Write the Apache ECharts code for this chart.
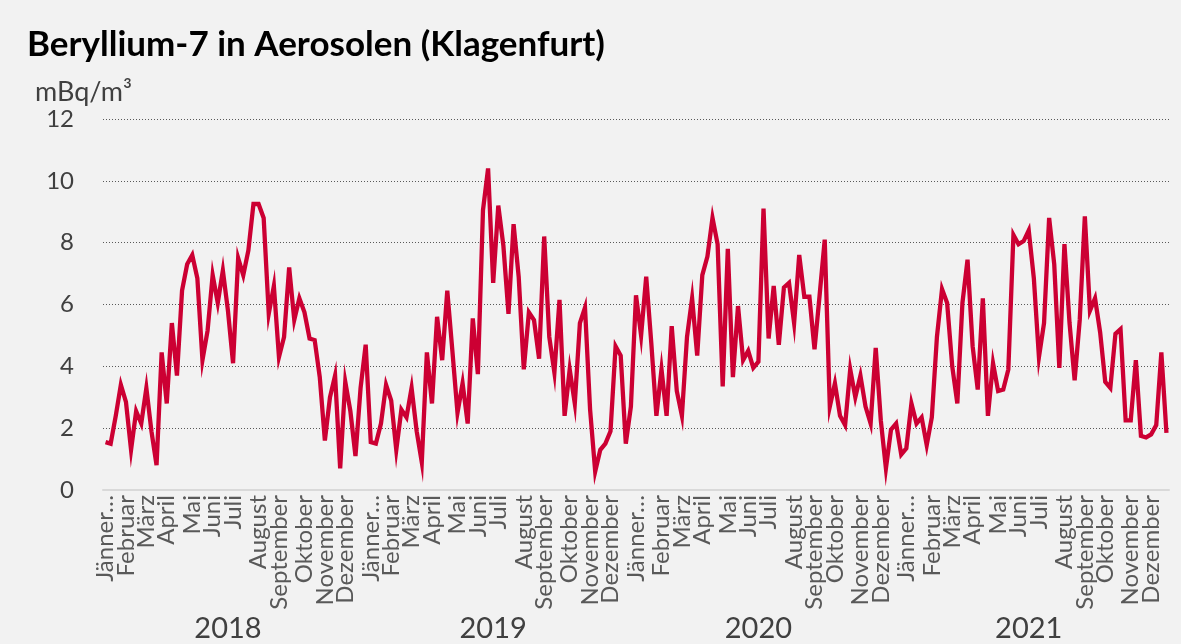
<!DOCTYPE HTML>
<html>
    <head>
        <meta charset="utf-8">
        <title>Beryllium-7 in Aerosolen (Klagenfurt)</title>
        <script src="https://cdn.jsdelivr.net/npm/echarts@6/dist/echarts.min.js"></script>
        <style>
            html, body { margin: 0; padding: 0; background: #f2f2f2; }
            #chart { width: 1181px; height: 644px; }
        </style>
    </head>
    <body>
        <div id="chart"></div>
        <script>
        // Wochenwerte Be-7 in mBq/m3
        var be7_2018 = [1.55, 1.5, 2.4, 3.4, 2.85, 1.3, 2.55, 2.15, 3.3, 1.9, 0.8, 4.45, 2.8, 5.4, 3.7, 6.45,
            7.3, 7.6, 6.85, 4.2, 5.15, 6.95, 6.05, 7.1, 5.8, 4.1, 7.5, 6.95, 7.75, 9.25, 9.25, 8.8,
            5.7, 6.6, 4.3, 4.95, 7.2, 5.5, 6.2, 5.75, 4.9, 4.85, 3.65, 1.6, 3.0, 3.7, 0.7, 3.5,
            2.55, 1.1, 3.3, 4.7];
        var be7_2019 = [1.55, 1.5, 2.15, 3.4, 2.9, 1.3, 2.6, 2.35, 3.3, 1.9, 0.9, 4.45, 2.8, 5.6, 4.2, 6.45,
            4.5, 2.5, 3.45, 2.15, 5.55, 3.75, 9.05, 10.4, 6.7, 9.2, 7.9, 5.7, 8.6, 6.9, 3.9, 5.75,
            5.5, 4.25, 8.2, 4.95, 3.8, 6.15, 2.4, 3.9, 2.8, 5.4, 5.9, 2.6, 0.6, 1.3, 1.5, 1.9,
            4.65, 4.35, 1.5, 2.7];
        var be7_2020 = [6.3, 5.0, 6.9, 4.75, 2.4, 3.9, 2.4, 5.3, 3.2, 2.4, 4.95, 6.2, 4.35, 6.95, 7.55, 8.8,
            7.95, 3.35, 7.8, 3.65, 5.95, 4.2, 4.5, 3.95, 4.15, 9.1, 4.9, 6.6, 4.7, 6.55, 6.7, 5.4,
            7.6, 6.25, 6.25, 4.55, 6.3, 8.1, 2.7, 3.45, 2.4, 2.1, 3.9, 3.0, 3.7, 2.7, 2.15, 4.6,
            2.25, 0.7, 1.95, 2.15, 1.15];
        var be7_2021 = [1.35, 2.8, 2.15, 2.35, 1.45, 2.35, 4.95, 6.5, 6.05, 4.0, 2.8, 6.05, 7.45, 4.65, 3.25, 6.2,
            2.4, 4.1, 3.2, 3.25, 3.9, 8.25, 7.95, 8.05, 8.4, 6.85, 4.3, 5.4, 8.8, 7.3, 3.95, 7.95,
            5.4, 3.55, 5.5, 8.85, 5.8, 6.2, 5.1, 3.5, 3.3, 5.05, 5.2, 2.25, 2.25, 4.2, 1.75, 1.7,
            1.8, 2.1, 4.45, 1.85];

        var years = ['2018', '2019', '2020', '2021'];
        var months = ['Jänner', 'Februar', 'März', 'April', 'Mai', 'Juni', 'Juli', 'August',
            'September', 'Oktober', 'November', 'Dezember'];
        // erste Woche jedes Monats (Index innerhalb des Jahres)
        var monthStart2018 = [0, 4, 8, 12, 17, 21, 25, 30, 34, 39, 43, 47];
        var monthStart2019 = [0, 4, 8, 12, 17, 21, 25, 30, 34, 39, 43, 47];
        var monthStart2020 = [0, 5, 9, 13, 18, 22, 26, 31, 35, 39, 44, 48];
        var monthStart2021 = [0, 5, 9, 13, 18, 22, 26, 31, 35, 39, 44, 48];

        var yearData = [be7_2018, be7_2019, be7_2020, be7_2021];
        var yearMonths = [monthStart2018, monthStart2019, monthStart2020, monthStart2021];

        var cats = [];
        var values = [];
        var monthLabel = {};   // Woche -> Monatsname
        var monthNo = {};      // Woche -> Monatsnummer (0..11)
        var yearLabel = {};
        var start = 0;
        for (var y = 0; y < years.length; y++) {
            var d = yearData[y];
            for (var w = 0; w < d.length; w++) {
                cats.push(years[y] + '-' + (w + 1));
                values.push(d[w]);
            }
            for (var m = 0; m < yearMonths[y].length; m++) {
                monthLabel[start + yearMonths[y][m]] = months[m];
                monthNo[start + yearMonths[y][m]] = m;
            }
            yearLabel[start + 24] = years[y];
            start += d.length;
        }

        var font = 'Lato, "Open Sans", sans-serif';

        // Monatsbeschriftung auf zwei Achsen verteilt (gerade / ungerade Monate)
        function monthAxis(parity, showLine) {
            return {
                type: 'category',
                data: cats,
                boundaryGap: true,
                position: 'bottom',
                offset: 0,
                axisLine: { show: showLine, lineStyle: { color: '#d9d9d9', width: 2 } },
                axisTick: { show: false },
                axisLabel: {
                    rotate: 90,
                    margin: 5,
                    fontSize: 24,
                    color: '#595959',
                    hideOverlap: false,
                    interval: function (i) { return monthNo[i] !== undefined && monthNo[i] % 2 === parity; },
                    formatter: function (v, i) {
                        var t = monthLabel[i] || '';
                        return t === 'Jänner' ? 'Jänner…' : t;
                    }
                },
                splitLine: { show: false }
            };
        }

        var chart = echarts.init(document.getElementById('chart'));
        chart.setOption({
            backgroundColor: '#f2f2f2',
            animation: false,
            textStyle: { fontFamily: font },
            title: [{
                text: 'Beryllium-7 in Aerosolen (Klagenfurt)',
                left: 27, top: 27, padding: 0,
                textStyle: { fontFamily: font, fontSize: 35, fontWeight: 'bold', color: '#000000' }
            }, {
                text: 'mBq/m³',
                left: 35, top: 79, padding: 0,
                textStyle: { fontFamily: font, fontSize: 27, fontWeight: 'normal', color: '#404040' }
            }],
            grid: { left: 103, right: 12, top: 119, bottom: 154, containLabel: false },
            xAxis: [monthAxis(0, true), monthAxis(1, false), {
                type: 'category',
                data: cats,
                boundaryGap: true,
                position: 'bottom',
                offset: 116,
                axisLine: { show: false },
                axisTick: { show: false },
                axisLabel: {
                    margin: 8,
                    fontSize: 29,
                    color: '#404040',
                    hideOverlap: false,
                    interval: function (i) { return yearLabel[i] !== undefined; },
                    formatter: function (v, i) { return yearLabel[i] || ''; }
                },
                splitLine: { show: false }
            }],
            yAxis: {
                type: 'value',
                min: 0, max: 12, interval: 2,
                axisLine: { show: false },
                axisTick: { show: false },
                axisLabel: { fontSize: 24, color: '#404040', margin: 29 },
                splitLine: { lineStyle: { color: '#595959', type: [1, 2], width: 1 } }
            },
            series: [{
                type: 'line',
                data: values,
                xAxisIndex: 0,
                symbol: 'none',
                lineStyle: { color: '#cc0033', width: 4.3, join: 'miter' },
                itemStyle: { color: '#cc0033' }
            }]
        });
        </script>
    </body>
</html>
